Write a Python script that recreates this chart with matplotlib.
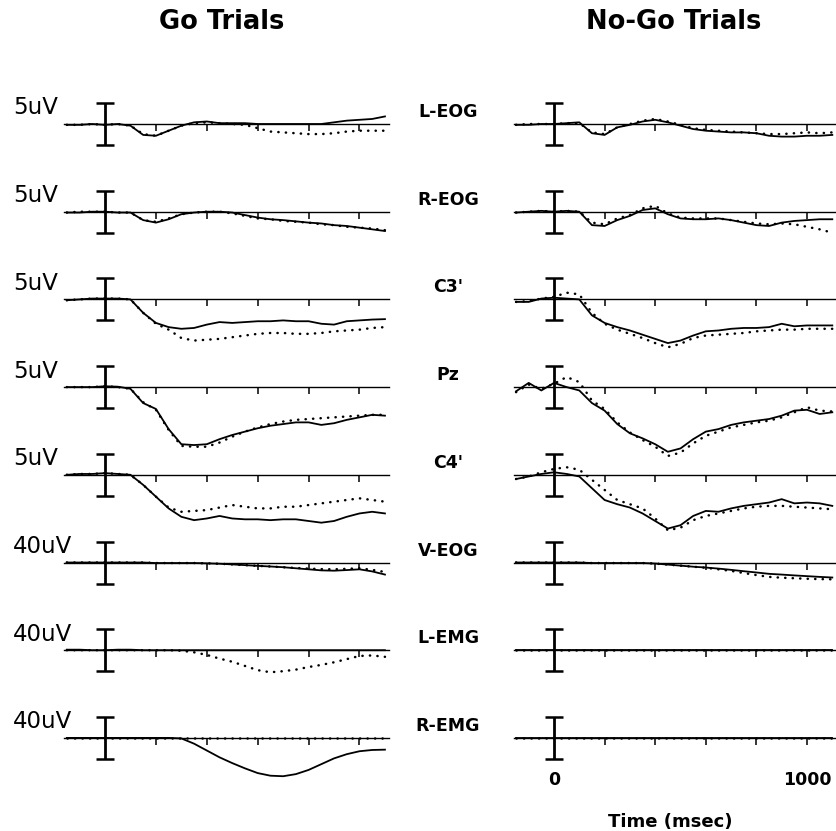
import matplotlib

matplotlib.use('Agg')

import matplotlib.pyplot as plt

# time axis of the averaged traces (msec, stimulus at 0)
times = [-150, -100, -50, 0, 50, 100, 150, 200, 250, 300, 350, 400, 450,
         500, 550, 600, 650, 700, 750, 800, 850, 900, 950, 1000, 1050, 1100]
tick_times = [200, 400, 600, 800, 1000]

channels = ["L-EOG", "R-EOG", "C3'", "Pz", "C4'", "V-EOG", "L-EMG", "R-EMG"]
scales = [5, 5, 5, 5, 5, 40, 40, 40]          # calibration bar, uV
scale_labels = ["5uV", "5uV", "5uV", "5uV", "5uV", "40uV", "40uV", "40uV"]

# Go trials, solid trace (uV)
go_solid = [
    [-0.1, -0.1, 0.0, -0.1, 0.0, -0.2, -1.3, -1.4, -0.8, -0.2, 0.2, 0.3, 0.1, 0.1, 0.1, 0.0, 0.0, 0.0, 0.0, 0.0, 0.0, 0.2, 0.4, 0.5, 0.6, 0.9],
    [-0.1, -0.1, 0.0, 0.0, -0.1, -0.1, -1.0, -1.3, -0.9, -0.3, -0.1, 0.0, 0.0, -0.1, -0.4, -0.7, -0.9, -1.0, -1.15, -1.3, -1.4, -1.6, -1.7, -1.9, -2.1, -2.3],
    [-0.1, 0.0, 0.1, 0.1, 0.1, 0.0, -1.6, -2.8, -3.3, -3.5, -3.4, -3.0, -2.7, -2.8, -2.7, -2.6, -2.6, -2.5, -2.6, -2.6, -2.9, -3.0, -2.6, -2.5, -2.4, -2.35],
    [0.0, 0.0, 0.0, 0.1, 0.05, -0.2, -1.9, -2.6, -5.0, -6.8, -6.9, -6.8, -6.2, -5.7, -5.3, -4.9, -4.6, -4.4, -4.2, -4.2, -4.5, -4.3, -3.9, -3.6, -3.3, -3.4],
    [0.0, 0.1, 0.1, 0.2, 0.1, 0.0, -1.2, -2.6, -4.0, -5.0, -5.4, -5.2, -4.9, -5.2, -5.3, -5.3, -5.4, -5.3, -5.3, -5.5, -5.7, -5.5, -5.0, -4.6, -4.4, -4.6],
    [0, 0, 0, 0, 0, 0, 0, -0.5, -0.5, -0.5, -0.5, -0.8, -1.2, -1.8, -2.5, -3.2, -3.8, -4.5, -5.5, -6.5, -7.5, -7.8, -7.2, -6.5, -8.5, -11.5],
    [0.5, 0.5, 0, 0, 0.5, 0.5, 0, 0, 0, 0, 0, 0, 0, 0, 0, 0, 0, 0, 0, 0, 0, 0, 0, 0, 0, 0],
    [0, 0, 0, 0, 0, 0, 0, 0, 0, -0.5, -5.5, -12.0, -18.5, -24.0, -29.0, -33.5, -36.0, -36.5, -34.5, -30.5, -25.0, -19.5, -15.5, -12.7, -11.5, -11.2],
]
# Go trials, dotted trace (uV)
go_dotted = [
    [-0.1, -0.1, 0.0, -0.1, 0.0, -0.2, -1.2, -1.4, -0.8, -0.2, 0.1, 0.2, 0.1, 0.0, -0.1, -0.5, -0.9, -1.0, -1.1, -1.2, -1.2, -1.1, -0.9, -0.8, -0.8, -0.8],
    [-0.1, 0.0, 0.0, 0.0, -0.1, -0.1, -1.0, -1.2, -0.8, -0.3, -0.1, 0.0, 0.0, -0.2, -0.5, -0.8, -0.9, -1.1, -1.2, -1.3, -1.5, -1.6, -1.8, -1.9, -2.0, -2.2],
    [-0.1, 0.0, 0.1, 0.1, 0.1, 0.0, -1.6, -2.9, -3.6, -4.6, -4.9, -4.8, -4.7, -4.5, -4.3, -4.1, -4.0, -4.0, -4.1, -4.1, -4.0, -3.8, -3.7, -3.6, -3.4, -3.3],
    [0.0, 0.0, 0.0, 0.1, 0.0, -0.2, -1.8, -2.7, -5.1, -7.0, -7.1, -7.1, -6.6, -5.9, -5.3, -4.8, -4.4, -4.1, -3.9, -3.8, -3.7, -3.6, -3.5, -3.4, -3.3, -3.3],
    [0.0, 0.1, 0.1, 0.2, 0.1, 0.0, -1.2, -2.6, -3.9, -4.4, -4.3, -4.2, -3.9, -3.6, -3.8, -4.0, -4.0, -3.8, -3.8, -3.6, -3.4, -3.2, -3.0, -2.8, -3.0, -3.2],
    [0, 0, 0, 0, 0, 0, 0, -0.5, -0.5, -0.5, -0.5, -0.8, -1.2, -1.8, -2.5, -3.2, -3.8, -4.5, -5.2, -5.8, -6.3, -6.5, -6.0, -5.5, -7.0, -9.0],
    [0, 0, 0, 0, 0, 0, 0, 0, 0, -0.5, -2.0, -4.5, -8.0, -11.0, -15.0, -19.0, -21.0, -20.0, -18.5, -16.0, -14.0, -11.5, -8.5, -5.5, -5.0, -6.3],
    [0, 0, 0, 0, 0, 0, 0, 0, 0, 0, 0, 0, 0, 0, 0, 0, 0, 0, 0, 0, 0, 0, 0, 0, 0, 0],
]
# No-Go trials, solid trace (uV)
nogo_solid = [
    [-0.1, -0.1, 0.0, 0.0, 0.1, 0.2, -1.1, -1.3, -0.4, -0.1, 0.3, 0.5, 0.2, -0.2, -0.6, -0.8, -0.9, -1.0, -1.0, -1.1, -1.4, -1.5, -1.5, -1.4, -1.4, -1.3],
    [-0.1, 0.0, 0.1, 0.0, 0.1, 0.0, -1.6, -1.7, -1.0, -0.5, 0.2, 0.4, -0.3, -0.8, -0.9, -0.9, -0.8, -1.0, -1.3, -1.6, -1.7, -1.3, -1.1, -1.0, -0.9, -0.9],
    [-0.3, -0.3, 0.1, 0.2, 0.1, 0.0, -1.9, -2.8, -3.3, -3.7, -4.2, -4.7, -5.2, -4.9, -4.3, -3.8, -3.7, -3.5, -3.4, -3.4, -3.3, -2.9, -3.2, -3.1, -3.1, -3.1],
    [-0.5, 0.5, -0.4, 0.5, 0.0, -0.4, -1.9, -2.8, -4.4, -5.5, -6.1, -6.8, -7.7, -7.3, -6.2, -5.3, -5.0, -4.5, -4.2, -4.0, -3.8, -3.4, -2.8, -2.7, -3.2, -3.0],
    [-0.5, -0.2, 0.1, 0.3, 0.1, -0.2, -1.6, -3.0, -3.5, -3.9, -4.6, -5.5, -6.4, -6.0, -4.9, -4.3, -4.4, -4.0, -3.7, -3.5, -3.3, -2.9, -3.4, -3.3, -3.4, -3.7],
    [0, 0, 0, 0, 0, 0, -0.5, -0.5, -0.5, -0.5, -0.5, -1.0, -2.0, -3.0, -4.0, -4.8, -5.8, -7.0, -8.3, -9.5, -10.8, -11.5, -12.3, -13.0, -13.7, -14.3],
    [0, 0, 0, 0, 0, 0, 0, 0, 0, 0, 0, 0, 0, 0, 0, 0, 0, 0, 0, 0, 0, 0, 0, 0, 0, 0],
    [0, 0, 0, 0, 0, 0, 0, 0, 0, 0, 0, 0, 0, 0, 0, 0, 0, 0, 0, 0, 0, 0, 0, 0, 0, 0],
]
# No-Go trials, dotted trace (uV)
nogo_dotted = [
    [-0.1, 0.0, 0.0, 0.0, 0.1, 0.1, -1.0, -1.2, -0.4, 0.0, 0.4, 0.6, 0.3, -0.1, -0.5, -0.7, -0.8, -0.9, -1.0, -1.1, -1.2, -1.2, -1.1, -1.0, -1.1, -1.0],
    [-0.1, 0.0, 0.1, 0.0, 0.1, 0.0, -1.3, -1.5, -0.8, -0.4, 0.4, 0.7, -0.2, -0.7, -0.8, -0.8, -0.8, -1.0, -1.2, -1.4, -1.5, -1.4, -1.5, -1.8, -2.1, -2.5],
    [-0.3, -0.2, 0.1, 0.3, 0.8, 0.6, -1.6, -2.9, -3.6, -4.1, -4.6, -5.2, -5.7, -5.3, -4.6, -4.3, -4.2, -4.1, -4.0, -3.8, -3.7, -3.6, -3.6, -3.5, -3.5, -3.5],
    [-0.6, 0.3, -0.2, 0.4, 1.2, 0.6, -1.6, -2.6, -4.2, -5.4, -6.3, -7.1, -8.2, -7.8, -6.7, -5.8, -5.3, -4.8, -4.5, -4.2, -4.0, -3.6, -3.0, -2.4, -2.8, -2.9],
    [-0.5, -0.2, 0.3, 0.7, 0.9, 0.6, -0.6, -1.8, -3.0, -3.5, -4.0, -5.2, -6.6, -6.3, -5.4, -4.9, -4.6, -4.3, -4.0, -3.8, -3.7, -3.7, -3.8, -3.9, -4.0, -4.1],
    [0, 0, 0, 0, 0, 0, -0.5, -0.5, -0.5, -0.5, -0.5, -1.0, -2.0, -3.0, -4.0, -5.0, -6.5, -8.0, -10.0, -12.0, -13.7, -14.5, -15.0, -15.5, -15.8, -16.0],
    [0, 0, 0, 0, 0, 0, 0, 0, 0, 0, 0, 0, 0, 0, 0, 0, 0, 0, 0, 0, 0, 0, 0, 0, 0, 0],
    [0, 0, 0, 0, 0, 0, 0, 0, 0, 0, 0, 0, 0, 0, 0, 0, 0, 0, 0, 0, 0, 0, 0, 0, 0, 0],
]

W, H = 836, 831
fig = plt.figure(figsize=(W / 100, H / 100), dpi=100)

# layout in pixels
row_base = [124 + i * 87.7 for i in range(8)]   # y of each zero line
panel_zero = [105, 554]                          # x of t=0
panel_ppm = [0.2545, 0.253]                      # pixels per msec
t_lo, t_hi = -160, 1115
above, below = 30, 70                            # axes extent around zero line


def draw_row(px0, ppm, yb, scale, solid, dotted):
    left = px0 + t_lo * ppm
    width = (t_hi - t_lo) * ppm
    ax = fig.add_axes([left / W, 1 - (yb + below) / H, width / W, (above + below) / H])
    ppu = 42.0 / scale                            # calibration bar is 42 px tall
    ax.set_xlim(t_lo, t_hi)
    ax.set_ylim(-below / ppu, above / ppu)
    ax.patch.set_alpha(0)
    for s in ['top', 'left', 'right']:
        ax.spines[s].set_visible(False)
    ax.spines['bottom'].set_position(('data', 0))
    ax.spines['bottom'].set_linewidth(1.0)
    ax.set_xticks(tick_times)
    ax.set_yticks([])
    ax.tick_params(axis='x', direction='out', length=5, width=1.1, labelbottom=False)
    ax.errorbar([0], [0], yerr=[scale / 2.0], fmt='none', ecolor='k',
                elinewidth=2.0, capsize=6.5, capthick=1.8, clip_on=False)
    ax.plot(times, solid, color='k', lw=1.3, clip_on=False)
    ax.plot(times, dotted, color='k', lw=1.8, linestyle=(0, (0.1, 2.9)),
            dash_capstyle='round', clip_on=False)
    return ax


for i, ch in enumerate(channels):
    yb = row_base[i]
    draw_row(panel_zero[0], panel_ppm[0], yb, scales[i], go_solid[i], go_dotted[i])
    ax = draw_row(panel_zero[1], panel_ppm[1], yb, scales[i], nogo_solid[i], nogo_dotted[i])
    fig.text(13 / W, 1 - (yb - 16) / H, scale_labels[i], fontsize=16.5,
             ha='left', va='center', family='DejaVu Sans')
    fig.text(448 / W, 1 - (yb - 12) / H, ch, fontsize=12.5, fontweight='bold',
             ha='center', va='center', family='DejaVu Sans')

# time labels under the last No-Go row
for t in [0, 1000]:
    ax.annotate(str(t), xy=(t, 0), xytext=(0, -30), textcoords='offset points',
                ha='center', va='center', fontsize=12.5, fontweight='bold')

fig.text(670 / W, 1 - 822 / H, 'Time (msec)', fontsize=13, fontweight='bold',
         ha='center', va='center')
fig.text(222 / W, 1 - 22 / H, 'Go Trials', fontsize=18.5, fontweight='bold',
         ha='center', va='center')
fig.text(674 / W, 1 - 22 / H, 'No-Go Trials', fontsize=18.5, fontweight='bold',
         ha='center', va='center')

fig.savefig('out.png', dpi=100)
